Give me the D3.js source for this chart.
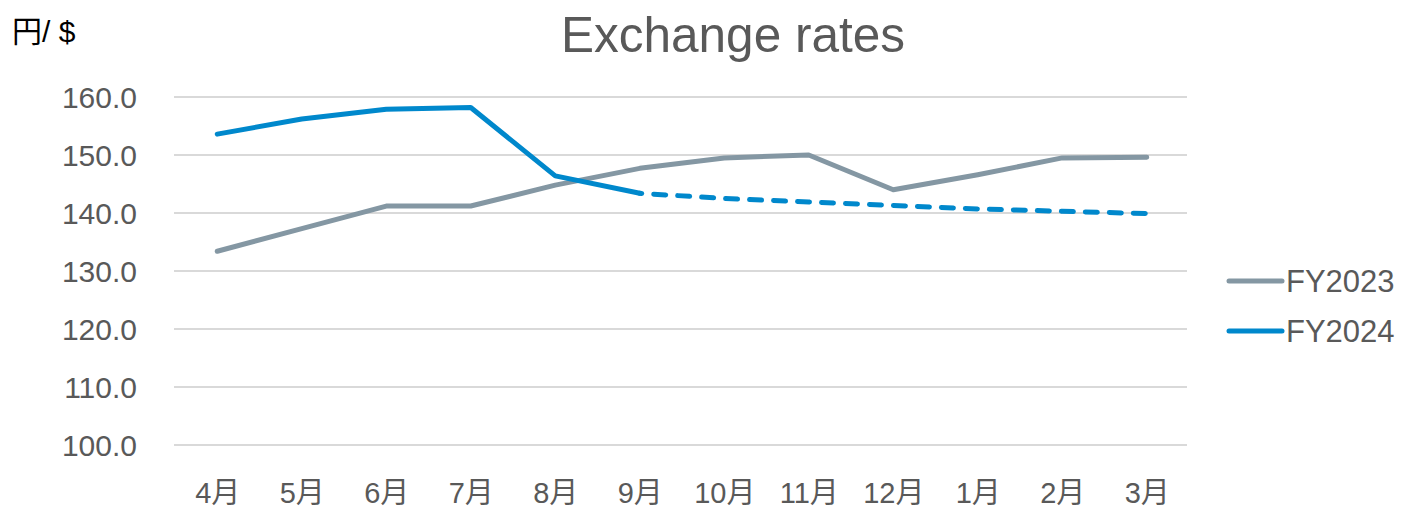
<!DOCTYPE html>
<html>
<head>
<meta charset="utf-8">
<script src="https://cdn.jsdelivr.net/npm/d3@7"></script>
<style>
  body { margin: 0; background: #fff; }
  text { font-family: "Liberation Sans", Arial, "Noto Sans CJK JP", sans-serif; }
</style>
</head>
<body>
<svg id="chart" width="1402" height="510"></svg>
<script>
// months of the fiscal year (April start)
var months = ["4月", "5月", "6月", "7月", "8月", "9月", "10月", "11月", "12月", "1月", "2月", "3月"];
var yTicks = [100, 110, 120, 130, 140, 150, 160];

var fy2023 = [133.4, 137.3, 141.2, 141.2, 144.8, 147.7, 149.5, 150.0, 144.0, 146.6, 149.5, 149.6];
// actual values up to 9月, forecast (dashed) after
var fy2024Actual = [153.6, 156.2, 157.9, 158.2, 146.4, 143.4];
var fy2024Forecast = [143.4, 142.5, 141.9, 141.3, 140.7, 140.3, 139.9];

var seriesNames = ["FY2023", "FY2024"];
var colors = { FY2023: "#8497A3", FY2024: "#0088CC" };

var svg = d3.select("#chart");

var x = d3.scalePoint()
    .domain(months)
    .range([175, 1189])
    .padding(0.5);

var y = d3.scaleLinear()
    .domain([100, 160])
    .range([445, 97]);

// gridlines
svg.append("g")
    .selectAll("line")
    .data(yTicks)
    .enter().append("line")
    .attr("x1", 174)
    .attr("x2", 1187)
    .attr("y1", function(d) { return y(d); })
    .attr("y2", function(d) { return y(d); })
    .attr("stroke", "#D9D9D9")
    .attr("stroke-width", 2);

// y axis labels
var yAxis = d3.axisLeft(y).tickValues(yTicks).tickFormat(d3.format(".1f")).tickSize(0).tickPadding(0);
svg.append("g")
    .attr("transform", "translate(137,0)")
    .call(yAxis)
    .call(function(g) { g.select(".domain").remove(); })
    .selectAll("text")
    .attr("fill", "#595959")
    .attr("font-size", 30)
    .attr("dy", "0.36em");

// x axis labels
var xAxis = d3.axisBottom(x).tickSize(0).tickPadding(0);
svg.append("g")
    .attr("transform", "translate(0,478)")
    .call(xAxis)
    .call(function(g) { g.select(".domain").remove(); })
    .selectAll("text")
    .attr("fill", "#595959")
    .attr("font-size", 29)
    .attr("dy", "0.85em");

var line = d3.line()
    .x(function(d) { return x(d.m); })
    .y(function(d) { return y(d.v); });

function pts(vals, offset) {
    return vals.map(function(v, i) { return { m: months[i + offset], v: v }; });
}

svg.append("path")
    .datum(pts(fy2023, 0))
    .attr("d", line)
    .attr("fill", "none")
    .attr("stroke", colors.FY2023)
    .attr("stroke-width", 5)
    .attr("stroke-linecap", "round")
    .attr("stroke-linejoin", "round");

svg.append("path")
    .datum(pts(fy2024Forecast, 5))
    .attr("d", line)
    .attr("fill", "none")
    .attr("stroke", colors.FY2024)
    .attr("stroke-width", 5)
    .attr("stroke-linecap", "round")
    .attr("stroke-dasharray", "12,12")
    .attr("stroke-dashoffset", -14);

svg.append("path")
    .datum(pts(fy2024Actual, 0))
    .attr("d", line)
    .attr("fill", "none")
    .attr("stroke", colors.FY2024)
    .attr("stroke-width", 5)
    .attr("stroke-linecap", "round")
    .attr("stroke-linejoin", "round");

// title
svg.append("text")
    .attr("x", 733)
    .attr("y", 52)
    .attr("text-anchor", "middle")
    .attr("font-size", 49.5)
    .attr("fill", "#595959")
    .text("Exchange rates");

// unit label
svg.append("text")
    .attr("x", 12)
    .attr("y", 42)
    .attr("font-size", 30)
    .attr("fill", "#000")
    .text("円/ $");

// legend
var legend = svg.append("g")
    .selectAll("g")
    .data(seriesNames)
    .enter().append("g")
    .attr("transform", function(d, i) { return "translate(0," + (281 + i * 50) + ")"; });

legend.append("line")
    .attr("x1", 1229)
    .attr("x2", 1282)
    .attr("stroke", function(d) { return colors[d]; })
    .attr("stroke-width", 5)
    .attr("stroke-linecap", "round");

legend.append("text")
    .attr("x", 1286)
    .attr("dy", "0.36em")
    .attr("font-size", 31)
    .attr("fill", "#595959")
    .text(function(d) { return d; });
</script>
</body>
</html>
